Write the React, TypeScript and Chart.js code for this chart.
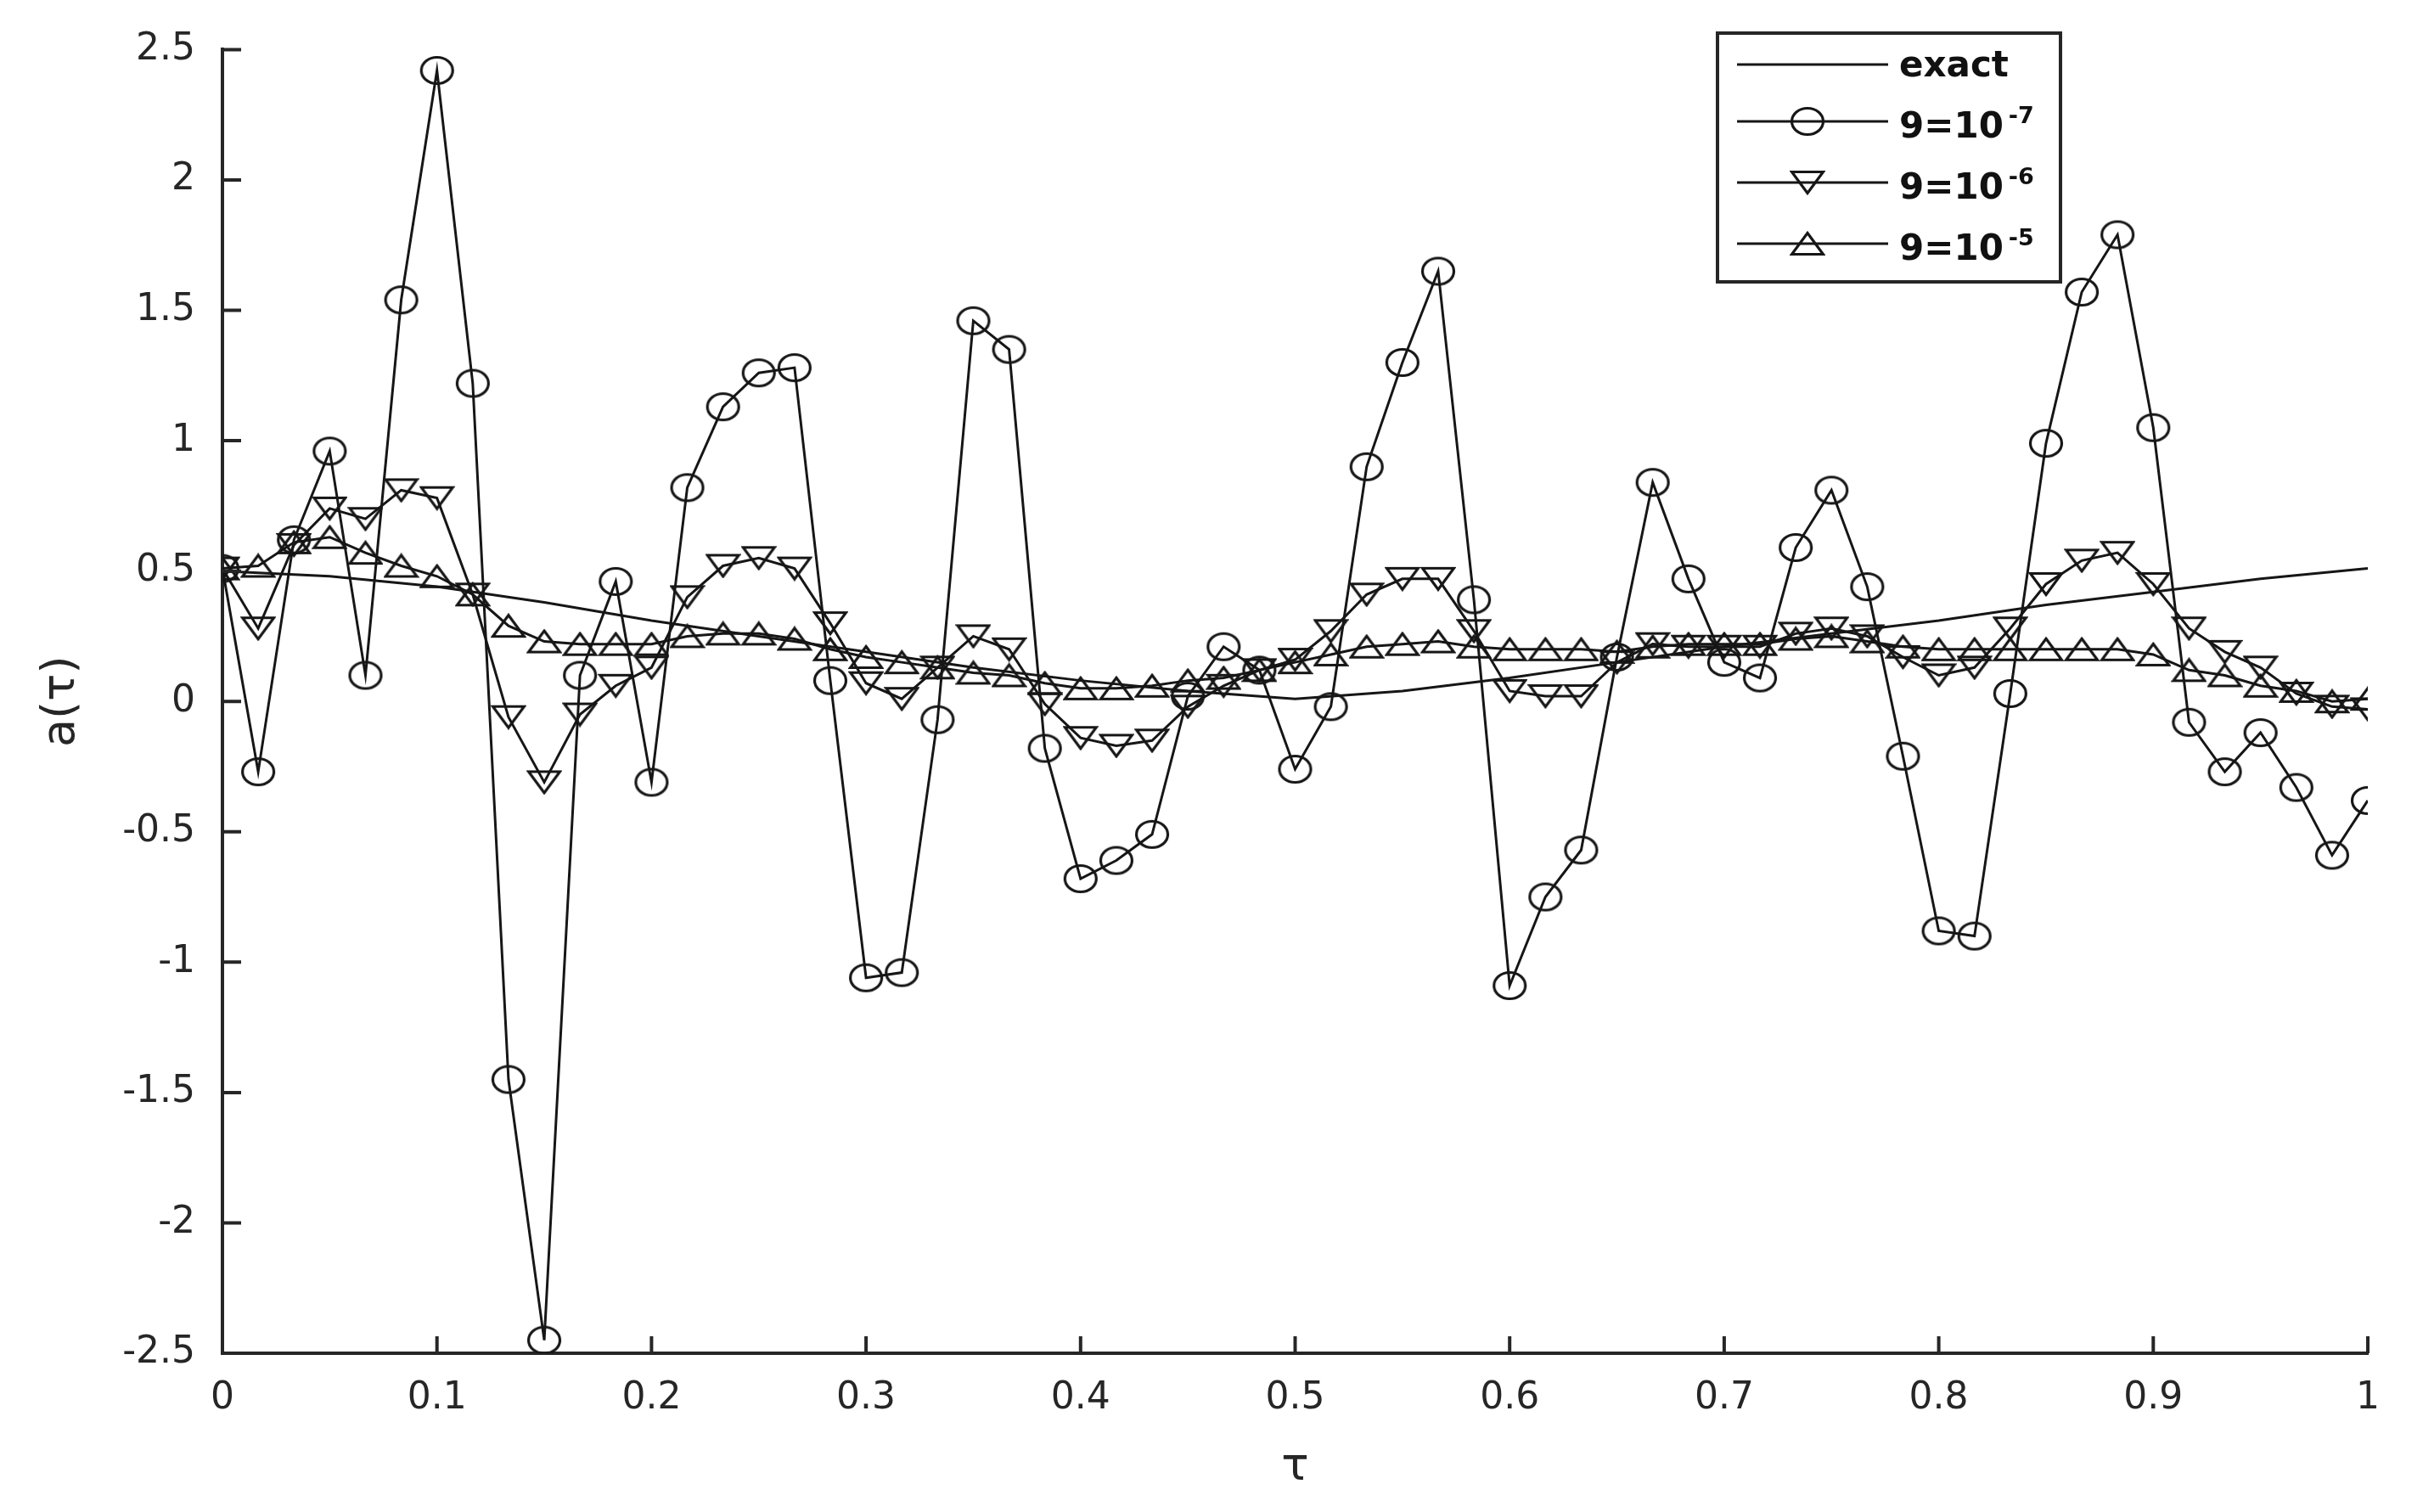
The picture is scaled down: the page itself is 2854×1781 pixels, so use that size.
import { useEffect, useRef } from "react";
import { Chart, registerables } from "chart.js";

Chart.register(...registerables);

// tau grid (61 samples, step 1/60)
const TAU = Array.from({ length: 61 }, (_, i) => i / 60);

// reconstruction with 9=10^-7 (circles)
const A_E7 = [
  0.51, -0.27, 0.62, 0.96, 0.1, 1.54, 2.42, 1.22, -1.45, -2.45,
  0.1, 0.46, -0.31, 0.82, 1.13, 1.26, 1.28, 0.08, -1.06, -1.04,
  -0.07, 1.46, 1.35, -0.18, -0.68, -0.61, -0.51, 0.02, 0.21, 0.12,
  -0.26, -0.02, 0.9, 1.3, 1.65, 0.39, -1.09, -0.75, -0.57, 0.17,
  0.84, 0.47, 0.15, 0.09, 0.59, 0.81, 0.44, -0.21, -0.88, -0.9,
  0.03, 0.99, 1.57, 1.79, 1.05, -0.08, -0.27, -0.12, -0.33, -0.59,
  -0.38,
];

// reconstruction with 9=10^-6 (down triangles)
const A_E6 = [
  0.51, 0.28, 0.6, 0.74, 0.7, 0.81, 0.78, 0.41, -0.06, -0.31,
  -0.05, 0.06, 0.13, 0.4, 0.52, 0.55, 0.51, 0.3, 0.07, 0.01,
  0.13, 0.25, 0.2, -0.01, -0.14, -0.17, -0.15, -0.02, 0.06, 0.12,
  0.16, 0.27, 0.41, 0.47, 0.47, 0.27, 0.04, 0.02, 0.02, 0.15,
  0.22, 0.21, 0.21, 0.21, 0.26, 0.28, 0.25, 0.17, 0.1, 0.13,
  0.28, 0.45, 0.54, 0.57, 0.45, 0.28, 0.19, 0.13, 0.03, -0.02,
  -0.03,
];

// reconstruction with 9=10^-5 (up triangles)
const A_E5 = [
  0.51, 0.52, 0.61, 0.63, 0.57, 0.52, 0.48, 0.41, 0.29, 0.23,
  0.22, 0.22, 0.22, 0.25, 0.26, 0.26, 0.24, 0.2, 0.17, 0.15,
  0.13, 0.11, 0.1, 0.07, 0.05, 0.05, 0.06, 0.08, 0.09, 0.12,
  0.15, 0.18, 0.21, 0.22, 0.23, 0.21, 0.2, 0.2, 0.2, 0.19,
  0.21, 0.22, 0.22, 0.22, 0.24, 0.25, 0.23, 0.21, 0.2, 0.2,
  0.2, 0.2, 0.2, 0.2, 0.18, 0.12, 0.1, 0.06, 0.04, 0.0,
  0.01,
];

// exact solution
const EXACT_TAU = [
  0, 0.05, 0.1, 0.15, 0.2, 0.25, 0.3, 0.35, 0.4, 0.45, 0.5,
  0.55, 0.6, 0.65, 0.7, 0.75, 0.8, 0.85, 0.9, 0.95, 1,
];
const EXACT_A = [
  0.5, 0.48, 0.44, 0.38, 0.31, 0.25, 0.19, 0.13, 0.08, 0.04, 0.01,
  0.04, 0.09, 0.15, 0.21, 0.26, 0.31, 0.37, 0.42, 0.47, 0.51,
];

const LEGEND_LABELS = ["exact", "9=10", "9=10", "9=10"];
const LEGEND_EXPONENTS = ["", "-7", "-6", "-5"];

const INK = "#161616";
const AXIS = "#262626";

function makeMarker(kind: "circle" | "down" | "up"): HTMLCanvasElement {
  const c = document.createElement("canvas");
  const ctx = c.getContext("2d")!;
  if (kind === "circle") {
    c.width = 42;
    c.height = 36;
    ctx.lineWidth = 3.2;
    ctx.strokeStyle = INK;
    ctx.beginPath();
    ctx.ellipse(21, 18, 18.5, 15.5, 0, 0, Math.PI * 2);
    ctx.stroke();
  } else {
    c.width = 42;
    c.height = 30;
    ctx.lineWidth = 3.2;
    ctx.strokeStyle = INK;
    ctx.lineJoin = "miter";
    ctx.beginPath();
    if (kind === "down") {
      ctx.moveTo(2.5, 2.5);
      ctx.lineTo(39.5, 2.5);
      ctx.lineTo(21, 27.5);
    } else {
      ctx.moveTo(21, 2.5);
      ctx.lineTo(39.5, 27.5);
      ctx.lineTo(2.5, 27.5);
    }
    ctx.closePath();
    ctx.stroke();
  }
  return c;
}

const toXY = (xs: number[], ys: number[]) => xs.map((x, i) => ({ x, y: ys[i] }));
const fmt = (v: any) => String(Number(Number(v).toFixed(2)));

export default function App() {
  const canvasRef = useRef<HTMLCanvasElement>(null);
  const chartRef = useRef<Chart | null>(null);

  useEffect(() => {
    if (!canvasRef.current) return;
    if (chartRef.current) chartRef.current.destroy();

    const markers = [null, makeMarker("circle"), makeMarker("down"), makeMarker("up")];

    // inward tick marks, like the original figure
    const inwardTicks = {
      id: "inwardTicks",
      afterDatasetsDraw(chart: any) {
        const { ctx, chartArea } = chart;
        const xs = chart.scales.x;
        const ys = chart.scales.y;
        ctx.save();
        ctx.strokeStyle = AXIS;
        ctx.lineWidth = 4;
        ctx.beginPath();
        xs.ticks.forEach((t: any) => {
          const px = xs.getPixelForValue(t.value);
          ctx.moveTo(px, chartArea.bottom);
          ctx.lineTo(px, chartArea.bottom - 20);
        });
        ys.ticks.forEach((t: any) => {
          const py = ys.getPixelForValue(t.value);
          ctx.moveTo(chartArea.left, py);
          ctx.lineTo(chartArea.left + 22, py);
        });
        ctx.stroke();
        ctx.restore();
      },
    };

    // boxed legend in the upper right corner
    const boxLegend = {
      id: "boxLegend",
      afterDraw(chart: any) {
        const { ctx } = chart;
        const bx = 2023, by = 39, bw = 404, bh = 293;
        const rows = [76, 143, 215, 287];
        ctx.save();
        ctx.fillStyle = "#fff";
        ctx.fillRect(bx, by, bw, bh);
        ctx.strokeStyle = AXIS;
        ctx.lineWidth = 4;
        ctx.strokeRect(bx, by, bw, bh);
        rows.forEach((ry, i) => {
          ctx.strokeStyle = INK;
          ctx.lineWidth = 3;
          ctx.beginPath();
          ctx.moveTo(2046, ry);
          ctx.lineTo(2224, ry);
          ctx.stroke();
          const m = markers[i];
          if (m) ctx.drawImage(m, 2129 - m.width / 2, ry - m.height / 2);
          ctx.fillStyle = "#111";
          ctx.textAlign = "left";
          ctx.textBaseline = "alphabetic";
          ctx.font = "bold 42px 'DejaVu Sans'";
          const base = i === 0 ? ry + 14 : ry + 19;
          ctx.fillText(LEGEND_LABELS[i], 2237, base);
          if (LEGEND_EXPONENTS[i]) {
            const w = ctx.measureText(LEGEND_LABELS[i]).width;
            ctx.font = "bold 27px 'DejaVu Sans'";
            ctx.fillText(LEGEND_EXPONENTS[i], 2237 + w + 6, ry + 2);
          }
        });
        ctx.restore();
      },
    };

    const series = (label: string, ys: number[], marker: any) => ({
      label,
      data: toXY(TAU, ys),
      borderColor: INK,
      borderWidth: 3,
      pointStyle: marker,
      pointRadius: 12,
      tension: 0,
    });

    chartRef.current = new Chart(canvasRef.current, {
      type: "line",
      data: {
        datasets: [
          {
            label: "exact",
            data: toXY(EXACT_TAU, EXACT_A),
            borderColor: INK,
            borderWidth: 3,
            pointRadius: 0,
            tension: 0,
          },
          series("9=10^-7", A_E7, markers[1]),
          series("9=10^-6", A_E6, markers[2]),
          series("9=10^-5", A_E5, markers[3]),
        ],
      },
      options: {
        animation: false,
        responsive: true,
        maintainAspectRatio: false,
        events: [],
        layout: { padding: { left: 0, top: 52, right: 65, bottom: 0 } },
        plugins: {
          legend: { display: false },
          tooltip: { enabled: false },
        },
        scales: {
          x: {
            type: "linear",
            min: 0,
            max: 1,
            grid: { display: false, drawTicks: false },
            border: { display: true, color: AXIS, width: 4 },
            ticks: {
              stepSize: 0.1,
              padding: 27,
              color: AXIS,
              font: { family: "DejaVu Sans", size: 44 },
              callback: fmt,
            },
            title: {
              display: true,
              text: "τ",
              color: AXIS,
              font: { family: "DejaVu Sans", size: 54 },
              padding: { top: 0, bottom: 20 },
            },
            afterFit: (s: any) => { s.height = 187; },
          },
          y: {
            type: "linear",
            min: -2.5,
            max: 2.5,
            grid: { display: false, drawTicks: false },
            border: { display: true, color: AXIS, width: 4 },
            ticks: {
              stepSize: 0.5,
              padding: 32,
              color: AXIS,
              font: { family: "DejaVu Sans", size: 44 },
              callback: fmt,
            },
            title: {
              display: true,
              text: "a(τ)",
              color: AXIS,
              font: { family: "DejaVu Sans", size: 54 },
              padding: { top: 41, bottom: 0 },
            },
            afterFit: (s: any) => { s.width = 262; },
          },
        },
      },
      plugins: [inwardTicks, boxLegend],
    });

    return () => { chartRef.current?.destroy(); };
  }, []);

  return (
    <div style={{ position: "absolute", left: 0, top: 0, width: 2854, height: 1781, background: "#fff" }}>
      <canvas ref={canvasRef} />
    </div>
  );
}
